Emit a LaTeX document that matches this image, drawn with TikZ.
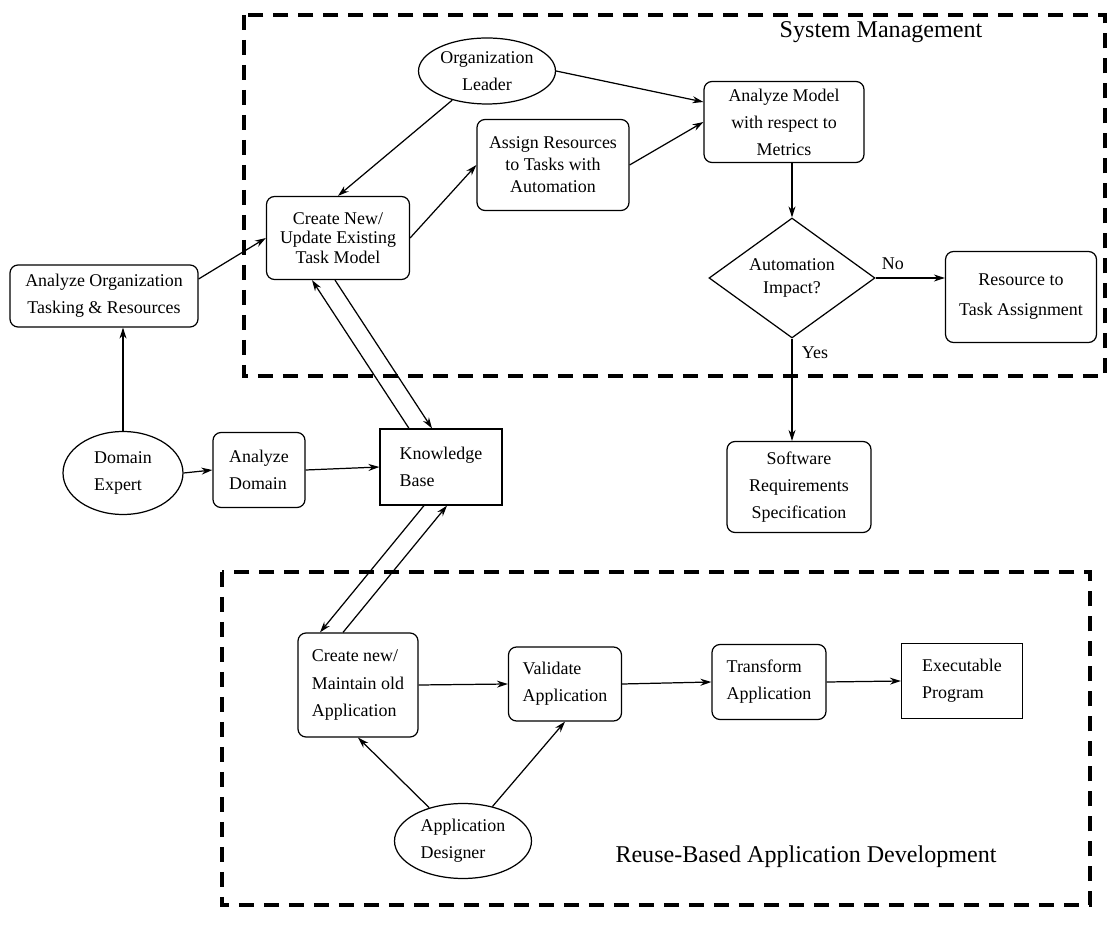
\documentclass[tikz,border=0pt]{standalone}
\usepackage{fontspec}
\setmainfont{Liberation Serif}
\usetikzlibrary{shapes.geometric,calc,arrows.meta}
\newcommand{\bodyfont}[1]{\fontsize{10.2}{#1}\selectfont}
\tikzset{
roundbox/.style={draw,rounded corners=0.16cm,align=center,inner sep=1pt,font=\bodyfont{15.4}},
plainbox/.style={draw,align=left,inner sep=1pt,font=\bodyfont{15.4}},
actor/.style={draw,ellipse,align=center,inner sep=0pt,font=\bodyfont{15.4}},
decisionbox/.style={draw,diamond,aspect=1.4,align=center,inner sep=0pt,font=\bodyfont{13}},
flowarrow/.style={-{Stealth[length=2.2mm,width=1.4mm]}},
zoneframe/.style={line width=2pt,dash pattern=on 0.3cm off 0.2cm},
zonetitle/.style={font=\fontsize{13.7}{16}\selectfont},
edgelabel/.style={font=\bodyfont{12}}
}

\begin{document}
\begin{tikzpicture}[x=0.02cm,y=-0.02cm,line width=0.7pt]
\useasboundingbox (0,0) rectangle (1109,935);
% dashed zones
\draw[zoneframe] (244,15) rectangle (1105,376);
\draw[zoneframe] (222,572) rectangle (1090,905);
\node[zonetitle] (systitle) at (881,32) {System Management};
\node[zonetitle] (reusetitle) at (806,857) {Reuse-Based Application Development};

% system management part
\node[actor,minimum width=2.74cm,minimum height=1.32cm] (orgleader) at (487,71) {Organization\\Leader};
\node[roundbox,minimum width=3.2cm,minimum height=1.62cm] (analyzemodel) at (784,122) {Analyze Model\\with respect to\\Metrics};
\node[roundbox,minimum width=3.04cm,minimum height=1.82cm,font=\bodyfont{12.5}] (assign) at (553,165) {Assign Resources\\to Tasks with\\Automation};
\node[roundbox,minimum width=2.86cm,minimum height=1.66cm,font=\bodyfont{11.2}] (createtask) at (338,238) {Create New/\\Update Existing\\Task Model};
\node[decisionbox,minimum width=3.32cm,minimum height=2.4cm] (decision) at (792,278) {Automation\\Impact?};
\node[roundbox,minimum width=3.02cm,minimum height=1.82cm,font=\bodyfont{17}] (resource) at (1021,297) {Resource to\\Task Assignment};

% domain analysis
\node[roundbox,minimum width=3.76cm,minimum height=1.24cm] (analyzeorg) at (104,296) {Analyze Organization\\Tasking \& Resources};
\node[actor,align=left,minimum width=2.4cm,minimum height=1.66cm] (domainexpert) at (123,473) {Domain\\Expert};
\node[roundbox,align=left,minimum width=1.84cm,minimum height=1.5cm] (analyzedomain) at (259,470) {Analyze\\Domain};
\node[plainbox,minimum width=2.44cm,minimum height=1.52cm] (kb) at (441,467) {Knowledge\\Base};
\node[roundbox,minimum width=2.88cm,minimum height=1.82cm] (software) at (799,487) {Software\\Requirements\\Specification};

% application development part
\node[roundbox,align=left,minimum width=2.4cm,minimum height=2.08cm] (createapp) at (358,685) {Create new/\\Maintain old\\Application};
\node[roundbox,align=left,minimum width=2.26cm,minimum height=1.48cm] (validate) at (565,684) {Validate\\Application};
\node[roundbox,align=left,minimum width=2.28cm,minimum height=1.5cm] (transform) at (769,682) {Transform\\Application};
\node[plainbox,minimum width=2.42cm,minimum height=1.5cm] (executable) at (962,681) {Executable\\Program};
\node[actor,align=left,minimum width=2.74cm,minimum height=1.5cm] (appdesigner) at (463,841) {Application\\Designer};

% connectors
\draw[flowarrow] (orgleader.east) -- ($(analyzemodel.west)+(0,-20)$);
\draw[flowarrow] (assign.east) -- (analyzemodel.west);
\draw[flowarrow] (orgleader) -- (createtask.north);
\draw[flowarrow] (createtask.east) -- (assign.west);
\draw[flowarrow] ($(analyzeorg.east)+(0,-17)$) -- (createtask.west);
\draw[flowarrow] (domainexpert.north) -- (domainexpert.north |- analyzeorg.south);
\draw[flowarrow] (domainexpert.east) -- (analyzedomain.west);
\draw[flowarrow] (analyzedomain.east) -- (kb.west);
\draw[flowarrow] ($(kb.north)+(-32,0)$) -- ($(createtask.south)+(-26,0)$);
\draw[flowarrow] ($(createtask.south)+(-3,0)$) -- ($(kb.north)+(-9,0)$);
\draw[flowarrow] ($(kb.south)+(-17,0)$) -- ($(createapp.north)+(-38,0)$);
\draw[flowarrow] ($(createapp.north)+(-15,0)$) -- ($(kb.south)+(6,0)$);
\draw[flowarrow] (createapp.east) -- (validate.west);
\draw[flowarrow] (validate.east) -- (transform.west);
\draw[flowarrow] (transform.east) -- (executable.west);
\draw[flowarrow] (appdesigner) -- (createapp.south);
\draw[flowarrow] (appdesigner) -- (validate.south);
\draw[flowarrow] (decision.north |- analyzemodel.south) -- (decision.north);
\draw[flowarrow] (decision.east) -- (decision.east -| resource.west) node[pos=0.25,above=1pt,edgelabel] {No};
\draw[flowarrow] (decision.south) -- (decision.south |- software.north) node[pos=0.14,right=2pt,edgelabel] {Yes};
\end{tikzpicture}
\end{document}
